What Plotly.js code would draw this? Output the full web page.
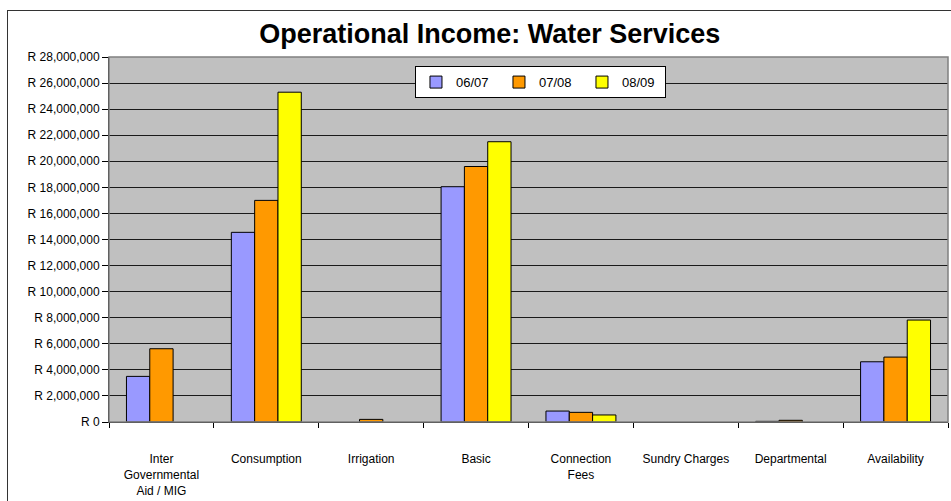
<!DOCTYPE html>
<html>
<head>
<meta charset="utf-8">
<script src="https://cdn.plot.ly/plotly-3.0.1.min.js"></script>
<style>
  html, body { margin: 0; padding: 0; background: #ffffff; overflow: hidden; }
  #wrap { position: relative; width: 951px; height: 501px; }
  #chart { position: absolute; left: 0; top: 0; width: 951px; height: 501px; }
  #frame { position: absolute; left: 7px; top: 10px; width: 960px; height: 520px;
           border: 1.5px solid #333; pointer-events: none; box-sizing: border-box; }
</style>
</head>
<body>
<div id="wrap">
  <div id="chart"></div>
  <div id="frame"></div>
</div>
<script>
const categories = [
  "Inter<br>Governmental<br>Aid / MIG",
  "Consumption",
  "Irrigation",
  "Basic",
  "Connection<br>Fees",
  "Sundry Charges",
  "Departmental",
  "Availability"
];
const seriesNames = ["06/07", "07/08", "08/09"];
// null = no value in the source chart (no bar drawn)
const values0607 = [3500000, 14550000, null, 18050000, 840000, null, 50000, 4620000];
const values0708 = [5620000, 17000000, 200000, 19600000, 740000, null, 130000, 4980000];
const values0809 = [null, 25300000, null, 21500000, 540000, null, null, 7820000];
const seriesColors = ["#9999FF", "#FF9900", "#FFFF00"];
const yTicks = [0, 2000000, 4000000, 6000000, 8000000, 10000000, 12000000, 14000000,
                16000000, 18000000, 20000000, 22000000, 24000000, 26000000, 28000000];
const yTickText = yTicks.map(v => "R " + v.toLocaleString("en-US"));

const allValues = [values0607, values0708, values0809];
const traces = allValues.map((vals, i) => ({
  type: "bar",
  name: seriesNames[i],
  x: categories,
  y: vals,
  marker: { color: seriesColors[i], line: { color: "#000000", width: 1 } },
  hoverinfo: "x+y+name"
}));

const layout = {
  width: 951,
  height: 501,
  margin: { l: 109, r: 3, t: 57, b: 79, pad: 0 },
  paper_bgcolor: "#ffffff",
  plot_bgcolor: "#C0C0C0",
  font: { family: "Liberation Sans, Arial, sans-serif", size: 12, color: "#000000" },
  title: {
    text: "<b>Operational Income: Water Services</b>",
    font: { family: "Liberation Sans, Arial, sans-serif", size: 27, color: "#000000" },
    x: 0.515, xref: "container", xanchor: "center",
    y: 0.934, yref: "container", yanchor: "middle"
  },
  barmode: "group",
  bargap: 0.333,
  bargroupgap: 0,
  showlegend: true,
  legend: {
    orientation: "h",
    x: 0.3647, xanchor: "left",
    y: 0.975, yanchor: "top",
    bgcolor: "#ffffff",
    bordercolor: "#000000",
    borderwidth: 1,
    font: { size: 13, color: "#000000" },
    entrywidth: 38,
    entrywidthmode: "pixels",
    traceorder: "normal",
    tracegroupgap: 0
  },
  xaxis: {
    type: "category",
    showgrid: false,
    showline: true,
    linecolor: "#000000",
    linewidth: 1,
    ticks: "outside",
    tickson: "boundaries",
    ticklen: 5,
    tickcolor: "#000000",
    ticklabelstandoff: 26,
    tickfont: { size: 12, color: "#000000" },
    zeroline: false,
    fixedrange: true
  },
  yaxis: {
    range: [0, 28000000],
    tickmode: "array",
    tickvals: yTicks,
    ticktext: yTickText,
    showgrid: true,
    gridcolor: "#1a1a1a",
    gridwidth: 1,
    showline: true,
    linecolor: "#000000",
    linewidth: 1,
    ticks: "outside",
    ticklen: 6,
    tickcolor: "#000000",
    tickfont: { size: 12, color: "#000000" },
    zeroline: false,
    fixedrange: true
  },
  shapes: [{
    type: "rect", xref: "paper", yref: "paper",
    x0: 0, x1: 1, y0: 0, y1: 1,
    line: { color: "#808080", width: 1.5 },
    fillcolor: "rgba(0,0,0,0)",
    layer: "above"
  }]
};

Plotly.newPlot("chart", traces, layout, { displayModeBar: false, staticPlot: true });
</script>
</body>
</html>
